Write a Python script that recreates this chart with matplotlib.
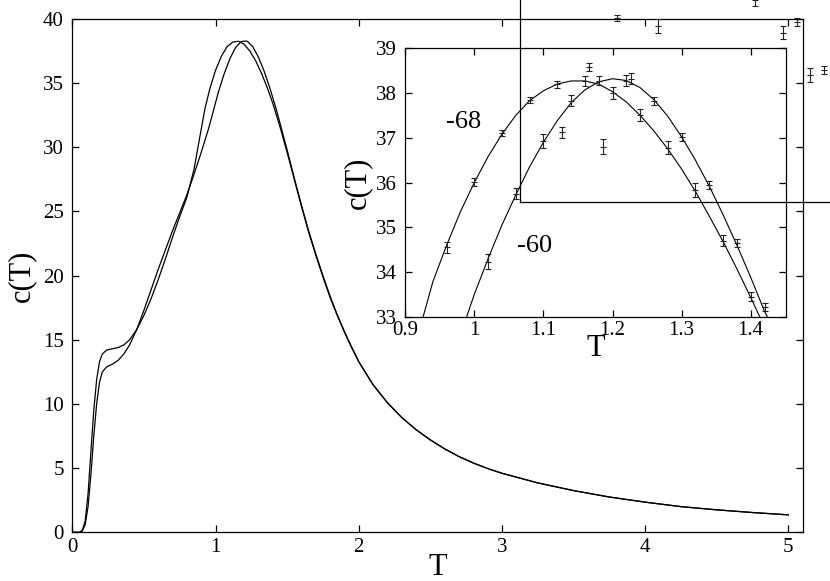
import matplotlib
matplotlib.use("Agg")
import matplotlib.pyplot as plt
import numpy as np

plt.rcParams['font.family'] = ['Liberation Serif', 'DejaVu Serif']
plt.rcParams['mathtext.fontset'] = 'stix'

# ---------------- main curves ----------------
T_main_68 = [0.0, 0.05, 0.07, 0.09, 0.11, 0.13, 0.15, 0.17, 0.19, 0.21, 0.24, 0.28, 0.32, 0.36,
             0.40, 0.45, 0.50, 0.55, 0.60, 0.65, 0.70, 0.75, 0.80, 0.85, 0.90, 0.926, 0.96,
             1.00, 1.04, 1.08, 1.12, 1.16, 1.20, 1.24, 1.28, 1.32, 1.36, 1.40, 1.45, 1.50,
             1.55, 1.60, 1.65, 1.70, 1.75, 1.80, 1.85, 1.90, 1.95, 2.00, 2.10, 2.20, 2.30,
             2.40, 2.50, 2.60, 2.70, 2.80, 2.90, 3.00, 3.25, 3.50, 3.75,
             4.00, 4.25, 4.50, 4.75, 5.00]
C_main_68 = [0.0, 0.0, 0.15, 0.9, 3.0, 6.3, 9.5, 11.9, 13.3, 13.9, 14.2, 14.3, 14.4, 14.6,
             15.0, 15.8, 16.9, 18.2, 19.7, 21.3, 23.0, 24.6, 26.1, 28.3, 31.4, 33.0, 34.55,
             36.0, 37.08, 37.83, 38.2, 38.27, 38.03, 37.5, 36.75, 35.8, 34.68, 33.43, 31.6, 29.6,
             27.5, 25.4, 23.4, 21.6, 19.9, 18.3, 16.9, 15.6, 14.4, 13.3, 11.5, 10.1, 8.95,
             8.0, 7.2, 6.5, 5.9, 5.4, 4.97, 4.6, 3.85, 3.25, 2.75,
             2.35, 2.0, 1.75, 1.54, 1.36]

T_main_60 = [0.0, 0.05, 0.07, 0.09, 0.11, 0.13, 0.15, 0.17, 0.19, 0.21, 0.24, 0.28, 0.32, 0.36,
             0.40, 0.45, 0.50, 0.55, 0.60, 0.65, 0.70, 0.75, 0.80, 0.85, 0.90, 0.95, 0.989,
             1.02, 1.06, 1.10, 1.14, 1.18, 1.22, 1.26, 1.30, 1.34, 1.38, 1.42, 1.45, 1.50,
             1.55, 1.60, 1.65, 1.70, 1.75, 1.80, 1.85, 1.90, 1.95, 2.00, 2.10, 2.20, 2.30,
             2.40, 2.50, 2.60, 2.70, 2.80, 2.90, 3.00, 3.25, 3.50, 3.75,
             4.00, 4.25, 4.50, 4.75, 5.00]
C_main_60 = [0.0, 0.0, 0.1, 0.6, 2.0, 4.5, 7.5, 10.0, 11.7, 12.5, 12.9, 13.1, 13.4, 13.9,
             14.6, 15.8, 17.3, 18.9, 20.5, 22.0, 23.5, 24.9, 26.3, 27.9, 29.6, 31.4, 33.0,
             34.3, 35.72, 36.9, 37.78, 38.25, 38.28, 37.85, 37.02, 35.92, 34.6, 33.12, 31.9, 29.8,
             27.6, 25.5, 23.5, 21.7, 20.0, 18.4, 16.95, 15.65, 14.45, 13.3, 11.5, 10.1, 8.95,
             8.0, 7.2, 6.5, 5.9, 5.4, 4.97, 4.6, 3.85, 3.25, 2.75,
             2.35, 2.0, 1.75, 1.54, 1.36]

# ---------------- inset fitted curves ----------------
T_fit_68 = [0.926, 0.94, 0.96, 0.98, 1.00, 1.02, 1.04, 1.06, 1.08, 1.10, 1.12, 1.14, 1.16, 1.18,
            1.20, 1.22, 1.24, 1.26, 1.28, 1.30, 1.32, 1.34, 1.36, 1.38, 1.40, 1.413]
C_fit_68 = [33.0, 33.78, 34.6, 35.35, 36.0, 36.58, 37.08, 37.5, 37.83, 38.05, 38.2, 38.27, 38.27, 38.2,
            38.03, 37.8, 37.5, 37.15, 36.75, 36.3, 35.8, 35.25, 34.68, 34.07, 33.43, 33.0]

T_fit_60 = [0.989, 1.00, 1.02, 1.04, 1.06, 1.08, 1.10, 1.12, 1.14, 1.16, 1.18, 1.20, 1.22, 1.24,
            1.26, 1.28, 1.30, 1.32, 1.34, 1.36, 1.38, 1.40, 1.42, 1.424]
C_fit_60 = [33.0, 33.5, 34.3, 35.05, 35.72, 36.35, 36.9, 37.38, 37.78, 38.07, 38.25, 38.32, 38.28, 38.12,
            37.85, 37.48, 37.02, 36.5, 35.92, 35.28, 34.6, 33.88, 33.12, 33.0]

# ---------------- inset data points ----------------
T_pts_68 = [0.96, 1.00, 1.04, 1.08, 1.12, 1.16, 1.20, 1.24, 1.28, 1.32, 1.36, 1.40]
C_pts_68 = [34.55, 36.02, 37.11, 37.85, 38.20, 38.27, 38.00, 37.51, 36.78, 35.83, 34.70, 33.45]
E_pts_68 = [0.13, 0.09, 0.07, 0.07, 0.08, 0.11, 0.14, 0.14, 0.14, 0.15, 0.13, 0.11]

T_pts_60 = [1.02, 1.06, 1.10, 1.14, 1.18, 1.22, 1.26, 1.30, 1.34, 1.38, 1.42]
C_pts_60 = [34.23, 35.75, 36.93, 37.83, 38.28, 38.28, 37.83, 37.02, 35.95, 34.64, 33.21]
E_pts_60 = [0.17, 0.12, 0.15, 0.12, 0.10, 0.13, 0.09, 0.09, 0.09, 0.09, 0.09]

main_xticks = [0, 1, 2, 3, 4, 5]
main_yticks = [0, 5, 10, 15, 20, 25, 30, 35, 40]
inset_xticks = [0.9, 1.0, 1.1, 1.2, 1.3, 1.4]
inset_xticklabels = ["0.9", "1", "1.1", "1.2", "1.3", "1.4"]
inset_yticks = [33, 34, 35, 36, 37, 38, 39]

W, H = 830, 581
fig = plt.figure(figsize=(W / 100, H / 100), dpi=100)

def rect(l, r, t, b):
    return [l / W, 1 - b / H, (r - l) / W, (b - t) / H]

lw_frame = 0.9
tick_fs = 15

# main axes
ax = fig.add_axes(rect(72.3, 802.7, 19, 532.3))
ax.plot(T_main_68, C_main_68, color='black', lw=0.9)
ax.plot(T_main_60, C_main_60, color='black', lw=0.9)
ax.set_xlim(0, 5.1)
ax.set_ylim(0, 40)
ax.set_xticks(main_xticks)
ax.set_yticks(main_yticks)
ax.tick_params(direction='in', length=5, width=0.9, top=True, right=True,
               labelsize=tick_fs)
ax.tick_params(axis='y', pad=6)
ax.tick_params(axis='x', pad=4)
for s in ax.spines.values():
    s.set_linewidth(lw_frame)
ax.set_xlabel("T", fontsize=22, labelpad=-3)
ax.set_ylabel("c(T)", fontsize=22, labelpad=5)

def draw_inset_content(a):
    a.errorbar(T_pts_68, C_pts_68, yerr=E_pts_68, fmt='_', color='#222222',
               ms=4.5, mew=0.8, elinewidth=0.8, capsize=2.2, capthick=0.8)
    a.errorbar(T_pts_60, C_pts_60, yerr=E_pts_60, fmt='_', color='#222222',
               ms=4.5, mew=0.8, elinewidth=0.8, capsize=2.2, capthick=0.8)
    a.set_xlim(0.9, 1.4515)
    a.set_ylim(33, 39)

# inset axes
inset_l, inset_r, inset_t, inset_b = 405.2, 786.3, 48.3, 316.7
axi = fig.add_axes(rect(inset_l, inset_r, inset_t, inset_b))
axi.plot(T_fit_68, C_fit_68, color='black', lw=0.8)
axi.plot(T_fit_60, C_fit_60, color='black', lw=0.8)
draw_inset_content(axi)
axi.set_xticks(inset_xticks)
axi.set_xticklabels(inset_xticklabels)
axi.set_yticks(inset_yticks)
axi.tick_params(direction='in', length=5, width=0.9, top=True, right=True,
                labelsize=tick_fs)
axi.tick_params(axis='y', pad=6)
axi.tick_params(axis='x', pad=3)
for s in axi.spines.values():
    s.set_linewidth(lw_frame)
axi.set_xlabel("T", fontsize=22, labelpad=-4)
axi.set_ylabel("c(T)", fontsize=22, labelpad=3)
axi.text(0.984, 37.35, "-68", fontsize=19, ha='center', va='center')
axi.text(1.087, 34.57, "-60", fontsize=19, ha='center', va='center')

# displaced copy of the inset (frame + error bars only)
shift = 115
axc = fig.add_axes(rect(inset_l + shift, inset_r + shift, inset_t - shift, inset_b - shift))
axc.patch.set_visible(False)
draw_inset_content(axc)
axc.set_xticks([])
axc.set_yticks([])
for s in axc.spines.values():
    s.set_linewidth(lw_frame)

fig.savefig("out.png", dpi=100)
